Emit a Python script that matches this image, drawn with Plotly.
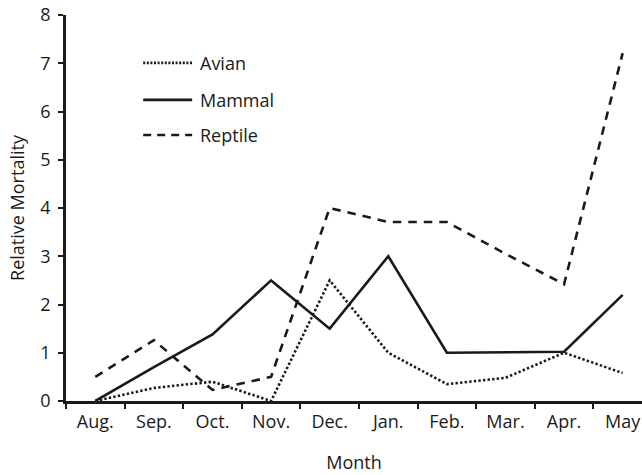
import plotly.graph_objects as go

months = ["Aug.", "Sep.", "Oct.", "Nov.", "Dec.", "Jan.", "Feb.", "Mar.", "Apr.", "May"]
avian = [0.0, 0.27, 0.4, 0.0, 2.5, 1.0, 0.35, 0.48, 1.0, 0.58]
mammal = [0.0, 0.7, 1.38, 2.5, 1.5, 3.0, 1.0, 1.01, 1.02, 2.2]
reptile = [0.5, 1.26, 0.23, 0.5, 4.0, 3.71, 3.71, 3.05, 2.42, 7.21]
series_names = ["Avian", "Mammal", "Reptile"]

ink = "#1a1a1a"
font = "Open Sans"
fs = 18

dashes = {"Avian": "2.4px,2.2px", "Mammal": "solid", "Reptile": "8.5px,7px"}
legend_dashes = {"Avian": "2px,1.6px", "Mammal": "solid", "Reptile": "8px,6px"}

fig = go.Figure()
for name, vals in zip(series_names, [avian, mammal, reptile]):
    fig.add_trace(go.Scatter(x=months, y=vals, mode="lines", name=name, showlegend=False,
                             line=dict(color=ink, width=2.6, dash=dashes[name])))

# manual legend (longer line samples than plotly's built-in legend)
leg_x0, leg_x1, leg_tx = 0.134, 0.219, 0.229
leg_y = [0.876, 0.780, 0.689]
for name, yy in zip(series_names, leg_y):
    fig.add_shape(type="line", xref="paper", yref="paper", x0=leg_x0, x1=leg_x1, y0=yy, y1=yy,
                  line=dict(color=ink, width=2.6, dash=legend_dashes[name]))
    fig.add_annotation(xref="paper", yref="paper", x=leg_tx, y=yy, text=name, showarrow=False,
                       xanchor="left", yanchor="middle",
                       font=dict(size=fs, family=font, color=ink))

fig.update_layout(
    width=642, height=475,
    margin=dict(l=66, r=0, t=15, b=74),
    paper_bgcolor="white", plot_bgcolor="white",
    font=dict(family=font, size=fs, color=ink),
    showlegend=False,
    xaxis=dict(
        type="category", range=[-0.5, 9.33], automargin=False,
        showline=True, linecolor=ink, linewidth=2.5,
        ticks="outside", tickson="boundaries", ticklen=5, tickwidth=1.5, tickcolor=ink,
        showgrid=False, zeroline=False, ticklabelstandoff=3,
        tickfont=dict(size=fs, family=font, color=ink),
        title=dict(text="Month", font=dict(size=fs, family=font, color=ink), standoff=25),
    ),
    yaxis=dict(
        range=[0, 8], dtick=1, automargin=False,
        showline=True, linecolor=ink, linewidth=2.5,
        ticks="outside", ticklen=5, tickwidth=1.5, tickcolor=ink,
        showgrid=False, zeroline=False, ticklabelstandoff=4,
        tickfont=dict(size=fs, family=font, color=ink),
        title=dict(text="Relative Mortality", font=dict(size=fs, family=font, color=ink), standoff=12),
    ),
)

fig.write_html("out.html", config={"displayModeBar": False},
               post_script="document.body.style.margin='0';document.body.style.overflow='hidden';")
